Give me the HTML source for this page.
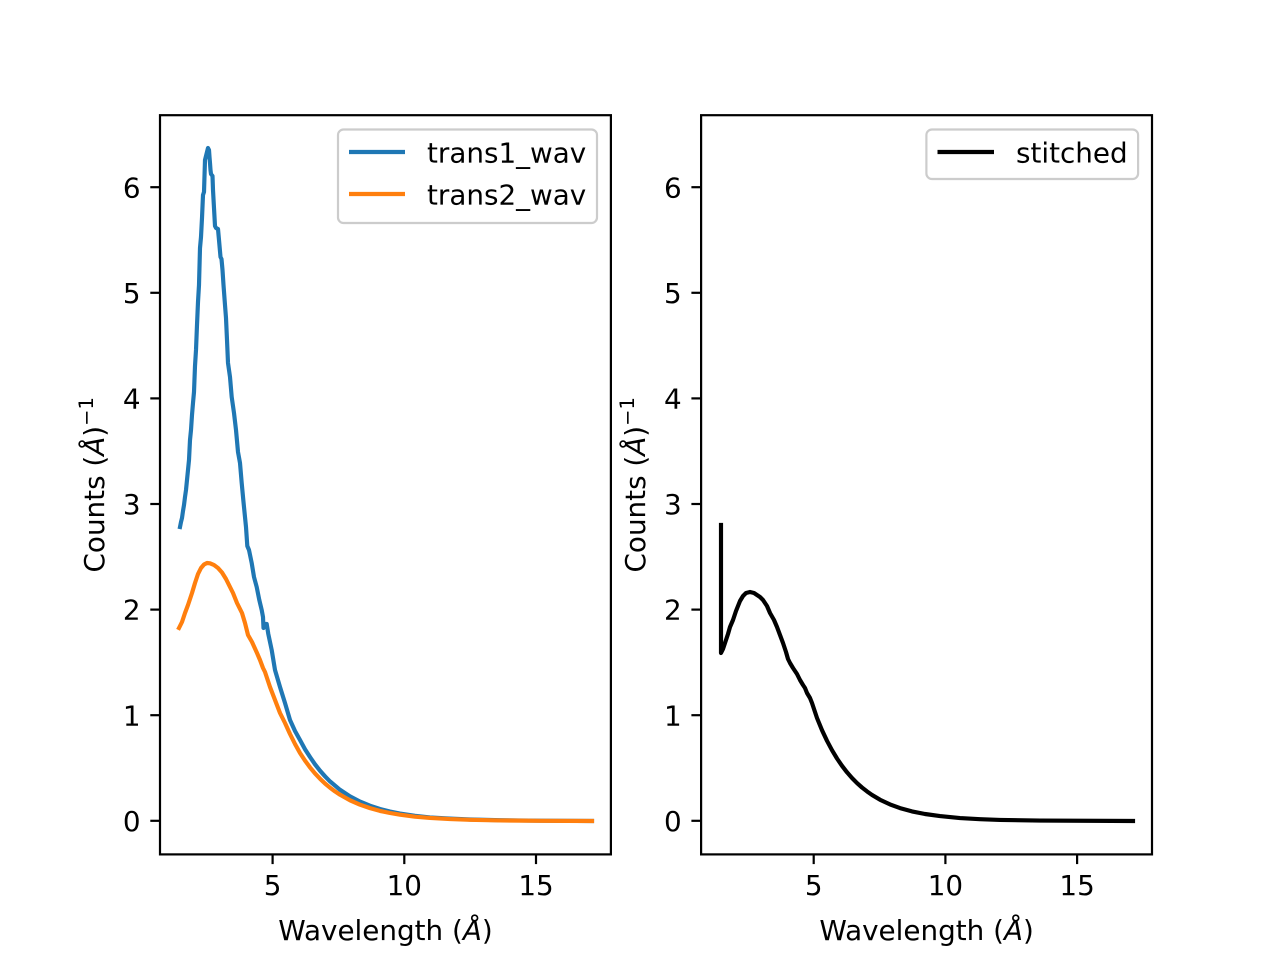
<!DOCTYPE html>
<html>
<head>
<meta charset="utf-8">
<style>
  html, body { margin: 0; padding: 0; background: #ffffff; }
  svg { display: block; }
  text { font-family: "DejaVu Sans", "Liberation Sans", sans-serif; fill: #000; }
</style>
</head>
<body>
<svg width="1280" height="960" viewBox="0 0 1280 960" xmlns="http://www.w3.org/2000/svg">
  <rect x="0" y="0" width="1280" height="960" fill="#ffffff"/>

  <!-- ================= LEFT AXES ================= -->
  <g fill="none" stroke-linejoin="round" stroke-linecap="square" stroke-width="4.17">
    <!-- trans1 (blue) -->
    <polyline stroke="#1f77b4" points="180,527 181,522 182,518 183,511 184,505 185,497 186,490 187,480 188,470 189,460 190,440 191,430 192,415 193,403 194,392 195,366 196,350 197,325 198,302 199,285 200,248 201,237 202,218 203,195 204,192 205,160 206,156 207,152 208,148 209,150 209.5,157 210,163 210.5,170 211,174 212.5,176 213,190 214,208 215,226 216,228 218,229 219,240 220.5,257 221.5,259 222.5,270 223.5,285 225,305 226,318 227,340 228,363 230,377 231.7,397 234,413 236,430 238,452 240,463 241.7,483 243.3,500 246,527 247.3,546 249,550 251.7,563 254,577 256.7,587 259.3,600 261.7,610 263,617 263.5,628 265,624 266.7,624 268.3,634 271.7,650 275,670 280,687 285,703 290,720 295,731 300,740 305,749.2 310,757 315,764.3 320,770.7 325,776.3 330,781.4 340,789.8 350,796.4 360,801.6 370,805.7 380,809 390,811.5 400,813.5 415,815.8 430,817.4 450,818.6 470,819.5 500,820.2 540,820.7 592,821"/>
    <!-- trans2 (orange) -->
    <polyline stroke="#ff7f0e" points="179,628 182,622 185,613 188,605 192,593 195,583 198,574 201,568 204,564.5 207,563 210,563.3 214,565 218,568 222,572.5 226,579 230,587 233,593 237,603 242,613 245,623 248,635 252,642 257,653 260,660 263,668 265,672 267,678 270,687 275,700 280,713 285,723 290,734 295,744 300,753 305,760.6 310,767.4 315,773.4 320,778.7 325,783.5 330,787.7 335,791.4 340,794.7 350,800.3 360,804.7 370,808.1 380,810.9 390,813 400,814.7 415,816.7 430,817.9 450,819.1 470,819.8 500,820.4 540,820.8 592,821"/>
  </g>

  <!-- spines -->
  <rect x="160" y="115.2" width="450.9" height="739.2" fill="none" stroke="#000" stroke-width="2.2"/>

  <!-- x ticks -->
  <g stroke="#000" stroke-width="2.2">
    <line x1="272.6" y1="854.4" x2="272.6" y2="864.1"/>
    <line x1="404.3" y1="854.4" x2="404.3" y2="864.1"/>
    <line x1="536.0" y1="854.4" x2="536.0" y2="864.1"/>
  </g>
  <g font-size="27.8" text-anchor="middle">
    <text x="272.6" y="895">5</text>
    <text x="404.3" y="895">10</text>
    <text x="536.0" y="895">15</text>
  </g>

  <!-- y ticks -->
  <g stroke="#000" stroke-width="2.2">
    <line x1="160" y1="820.8" x2="150.3" y2="820.8"/>
    <line x1="160" y1="715.2" x2="150.3" y2="715.2"/>
    <line x1="160" y1="609.6" x2="150.3" y2="609.6"/>
    <line x1="160" y1="504.0" x2="150.3" y2="504.0"/>
    <line x1="160" y1="398.4" x2="150.3" y2="398.4"/>
    <line x1="160" y1="292.8" x2="150.3" y2="292.8"/>
    <line x1="160" y1="187.2" x2="150.3" y2="187.2"/>
  </g>
  <g font-size="27.8" text-anchor="end">
    <text x="140.6" y="830.9">0</text>
    <text x="140.6" y="725.3">1</text>
    <text x="140.6" y="619.7">2</text>
    <text x="140.6" y="514.1">3</text>
    <text x="140.6" y="408.5">4</text>
    <text x="140.6" y="302.9">5</text>
    <text x="140.6" y="197.3">6</text>
  </g>

  <!-- axis labels -->
  <text x="385.5" y="940" font-size="27.8" text-anchor="middle">Wavelength (<tspan font-style="italic">Å</tspan>)</text>
  <text transform="translate(104,484.8) rotate(-90)" font-size="27.8" text-anchor="middle">Counts (<tspan font-style="italic">Å</tspan>)<tspan font-size="19.5" dy="-11">−1</tspan></text>

  <!-- legend -->
  <rect x="338" y="129.5" width="259" height="93.5" rx="5.5" ry="5.5" fill="#ffffff" fill-opacity="0.8" stroke="#cccccc" stroke-width="2.2"/>
  <line x1="349" y1="152" x2="405" y2="152" stroke="#1f77b4" stroke-width="4.17"/>
  <line x1="349" y1="194" x2="405" y2="194" stroke="#ff7f0e" stroke-width="4.17"/>
  <text x="427" y="162.5" font-size="27.8">trans1_wav</text>
  <text x="427" y="204.5" font-size="27.8">trans2_wav</text>

  <!-- ================= RIGHT AXES ================= -->
  <polyline fill="none" stroke="#000" stroke-width="4.17" stroke-linejoin="round" stroke-linecap="square"
    points="721,525 721,653 723,649 725,643 728,634 730,627 733,620 736,611 740,601 743,596 746,593 750,592 754,593 757,595 760,597 763,600 767,606 770,613 774,620 777,627 780,635 783,643 786,652 788,659 790,663 793,668 797,674 800,680 803,685 805,688 807,693 810,698 812,703 817,718 822,730.2 827,740.8 832,750.2 837,758.5 842,765.8 847,772.3 852,778 857,783.1 862,787.5 867,791.4 872,794.9 880,799.7 890,804.4 900,808.1 912,811.4 925,814 940,816.1 960,818.1 980,819.2 1000,819.9 1040,820.6 1133,821"/>

  <rect x="701.1" y="115.2" width="450.9" height="739.2" fill="none" stroke="#000" stroke-width="2.2"/>

  <g stroke="#000" stroke-width="2.2">
    <line x1="813.7" y1="854.4" x2="813.7" y2="864.1"/>
    <line x1="945.4" y1="854.4" x2="945.4" y2="864.1"/>
    <line x1="1077.1" y1="854.4" x2="1077.1" y2="864.1"/>
  </g>
  <g font-size="27.8" text-anchor="middle">
    <text x="813.7" y="895">5</text>
    <text x="945.4" y="895">10</text>
    <text x="1077.1" y="895">15</text>
  </g>

  <g stroke="#000" stroke-width="2.2">
    <line x1="701.1" y1="820.8" x2="691.4" y2="820.8"/>
    <line x1="701.1" y1="715.2" x2="691.4" y2="715.2"/>
    <line x1="701.1" y1="609.6" x2="691.4" y2="609.6"/>
    <line x1="701.1" y1="504.0" x2="691.4" y2="504.0"/>
    <line x1="701.1" y1="398.4" x2="691.4" y2="398.4"/>
    <line x1="701.1" y1="292.8" x2="691.4" y2="292.8"/>
    <line x1="701.1" y1="187.2" x2="691.4" y2="187.2"/>
  </g>
  <g font-size="27.8" text-anchor="end">
    <text x="681.7" y="830.9">0</text>
    <text x="681.7" y="725.3">1</text>
    <text x="681.7" y="619.7">2</text>
    <text x="681.7" y="514.1">3</text>
    <text x="681.7" y="408.5">4</text>
    <text x="681.7" y="302.9">5</text>
    <text x="681.7" y="197.3">6</text>
  </g>

  <text x="926.6" y="940" font-size="27.8" text-anchor="middle">Wavelength (<tspan font-style="italic">Å</tspan>)</text>
  <text transform="translate(645.1,484.8) rotate(-90)" font-size="27.8" text-anchor="middle">Counts (<tspan font-style="italic">Å</tspan>)<tspan font-size="19.5" dy="-11">−1</tspan></text>

  <rect x="926.4" y="129.5" width="211.7" height="49.5" rx="5.5" ry="5.5" fill="#ffffff" fill-opacity="0.8" stroke="#cccccc" stroke-width="2.2"/>
  <line x1="937.5" y1="152" x2="994" y2="152" stroke="#000" stroke-width="4.17"/>
  <text x="1016" y="162.5" font-size="27.8">stitched</text>
</svg>
</body>
</html>
